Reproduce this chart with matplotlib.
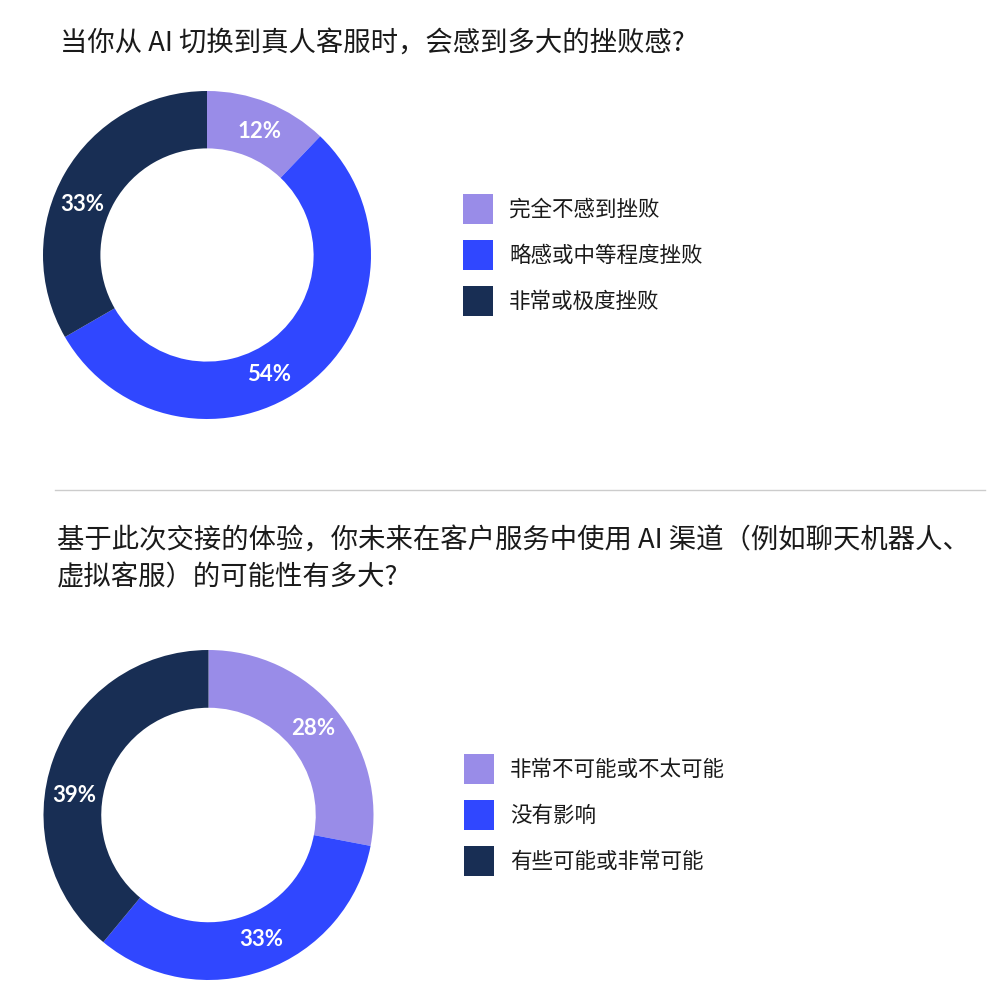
import matplotlib.pyplot as plt
from matplotlib.patches import Patch
from matplotlib.lines import Line2D
import numpy as np

plt.rcParams['font.family'] = ['Noto Sans CJK SC', 'DejaVu Sans']

title_1 = '当你从 AI 切换到真人客服时，会感到多大的挫败感?'
labels_1 = ['完全不感到挫败', '略感或中等程度挫败', '非常或极度挫败']
values_1 = [12, 54, 33]

title_2a = '基于此次交接的体验，你未来在客户服务中使用 AI 渠道（例如聊天机器人、'
title_2b = '虚拟客服）的可能性有多大?'
labels_2 = ['非常不可能或不太可能', '没有影响', '有些可能或非常可能']
values_2 = [28, 33, 39]

colors = ['#998ce8', '#3047ff', '#182e54']
text_color = '#1a1a1a'


def donut(fig, rect, values, labels, legend_x, legend_y, nudge):
    ax = fig.add_axes(rect)
    ax.pie(values, colors=colors, startangle=90, counterclock=False,
           radius=1, wedgeprops=dict(width=0.35, linewidth=0))
    # percentage labels on the ring, roughly mid-segment
    total = sum(values)
    start = 90.0
    for v, n in zip(values, nudge):
        span = 360.0 * v / total
        mid = np.deg2rad(start - span / 2 + n)
        start -= span
        ax.text(0.82 * np.cos(mid), 0.82 * np.sin(mid), f'{v}%',
                ha='center', va='center', color='white', fontsize=16,
                fontweight='bold', family=['Lato', 'DejaVu Sans'])
    ax.set_xlim(-1, 1)
    ax.set_ylim(-1, 1)
    ax.set_aspect('equal')
    ax.axis('off')

    handles = [Patch(facecolor=c, edgecolor='none') for c in colors]
    fig.legend(handles, labels, loc='center left',
               bbox_to_anchor=(legend_x, legend_y), frameon=False,
               fontsize=15.5, handlelength=1.4, handleheight=1.77,
               handletextpad=0.75, labelspacing=0.74, borderpad=0,
               borderaxespad=0, labelcolor=text_color)


fig = plt.figure(figsize=(10, 10), dpi=100)

fig.text(0.06, 1 - 0.043, title_1, fontsize=19.7, color=text_color, va='center')
donut(fig, [0.043, 0.581, 0.328, 0.328], values_1, labels_1, 0.463, 1 - 0.255,
      [-1, -10.5, 8])

fig.add_artist(Line2D([0.055, 0.985], [0.51, 0.51], color='#cccccc', lw=1))

fig.text(0.057, 1 - 0.540, title_2a, fontsize=19.7, color=text_color, va='center')
fig.text(0.057, 1 - 0.578, title_2b, fontsize=19.7, color=text_color, va='center')
donut(fig, [0.0435, 0.020, 0.330, 0.330], values_2, labels_2, 0.464, 1 - 0.815,
      [0, 3, 11.5])

fig.savefig('out.png', dpi=100, facecolor='white')
